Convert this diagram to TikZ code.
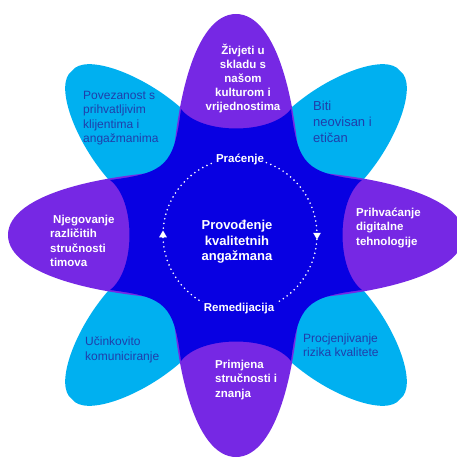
\documentclass[tikz,border=0pt]{standalone}
\usepackage{fontspec}
\setmainfont{Liberation Sans}
\usetikzlibrary{shapes.geometric}
\definecolor{mcyan}{RGB}{0, 176, 240}
\definecolor{mpurple}{RGB}{118, 40, 228}
\definecolor{mdark}{RGB}{8, 0, 226}
\definecolor{mtext}{RGB}{32, 62, 170}
\tikzset{petaltext/.style = {align=left, anchor=west, inner sep=0pt,
                             font=\fontsize{12}{14.5}\selectfont},
         lighttext/.style = {petaltext, text=white,
                             font=\fontsize{11.5}{14.5}\selectfont\bfseries},
         darktext/.style = {petaltext, text=mtext},
         cyclelabel/.style = {fill=mdark, text=white, inner sep=1.5pt,
                              font=\fontsize{11.5}{14}\selectfont\bfseries},
         cyclearrow/.style = {regular polygon, regular polygon sides=3,
                              fill=white, inner sep=0pt, minimum size=9pt}}

\begin{document}
\begin{tikzpicture}[x=1pt, y=1pt]
    \useasboundingbox (-236, -231) rectangle (221, 235);

    \foreach \r in {45, 135, 225, 315}
        \fill [mcyan, rotate=\r] (0, 0) -- (128, 51)
            .. controls (180, 48) and (236, 22) .. (232, 0)
            .. controls (236, -22) and (180, -48) .. (128, -51) -- cycle;
    \foreach \r/\len in {0/228, 90/221, 180/228, 270/222}
        \fill [mpurple, rotate=\r] (\len, 0)
            .. controls (\len, 40) and (135, 66) .. (0, 66)
            -- (0, -66) .. controls (135, -66) and (\len, -40) .. (\len, 0);

    \fill [mdark] (-55, 126) .. controls (-35, 100) and (35, 100) .. (55, 126)
        .. controls (62, 70) and (70, 62) .. (126, 55)
        .. controls (100, 35) and (100, -35) .. (126, -55)
        .. controls (70, -62) and (62, -70) .. (55, -126)
        .. controls (35, -100) and (-35, -100) .. (-55, -126)
        .. controls (-62, -70) and (-70, -62) .. (-126, -55)
        .. controls (-100, -35) and (-100, 35) .. (-126, 55)
        .. controls (-70, 62) and (-62, 70) .. (-55, 126) -- cycle;

    \coordinate (cycC) at (4, 0);
    \draw [white, line width=1.8pt, line cap=round, dash pattern=on 0pt off 4.7pt]
        (cycC) circle [radius=77];
    \node (track) [cyclelabel] at (4, 76) {Praćenje};
    \node (fix) [cyclelabel] at (3, -74) {Remedijacija};
    \node (upArrow) [cyclearrow] at (-73, 0) {};
    \node (downArrow) [cyclearrow, shape border rotate=180] at (81, 0) {};

    \node (title) [white, align=center, font=\fontsize{13}{15.5}\selectfont\bfseries]
        at (1, -7) {Provođenje\\kvalitetnih\\angažmana};

    \node (culture) [lighttext, align=center, anchor=center,
                     font=\fontsize{11.5}{14}\selectfont\bfseries]
        at (7, 156) {Živjeti u\\skladu s\\našom\\kulturom i\\vrijednostima};
    \node (ethics) [darktext, font=\fontsize{13}{16}\selectfont]
        at (77, 113) {Biti\\neovisan i\\etičan};
    \node (digital) [lighttext] at (120, 7) {Prihvaćanje\\digitalne\\tehnologije};
    \node (risk) [darktext] at (67, -110) {Procjenjivanje\\rizika kvalitete};
    \node (skills) [lighttext] at (-21, -145) {Primjena\\stručnosti i\\znanja};
    \node (talk) [darktext] at (-151, -115) {Učinkovito\\komuniciranje};
    \node (teams) [lighttext] at (-186, -6) {\hspace{3pt}Njegovanje\\različitih\\stručnosti\\timova};
    \node (clients) [darktext] at (-153, 117) {Povezanost s\\prihvatljivim\\klijentima i\\angažmanima};
\end{tikzpicture}
\end{document}
